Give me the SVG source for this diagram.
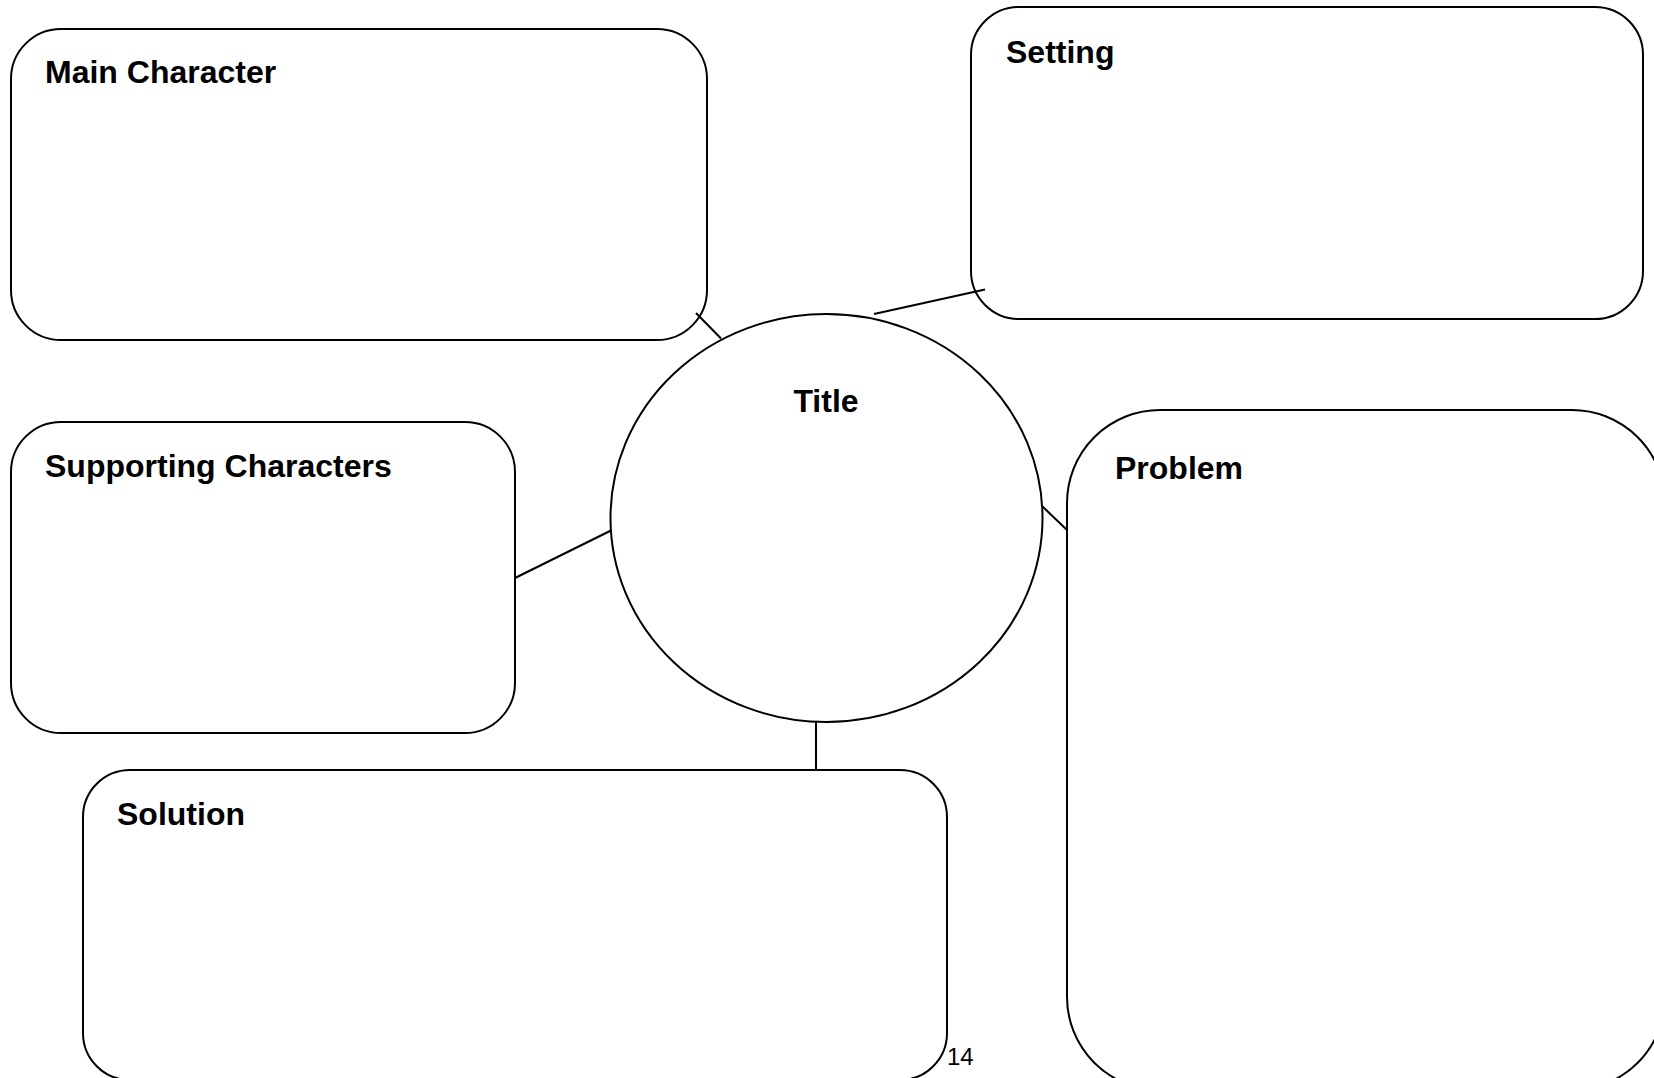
<svg xmlns="http://www.w3.org/2000/svg" width="1654" height="1078" viewBox="0 0 1654 1078">
<style>
.box{fill:#fff;stroke:#000;stroke-width:2}
.lbl{font-family:"Liberation Sans",Arial,sans-serif;font-weight:bold;font-size:32px;fill:#000}
.num{font-family:"Liberation Sans",Arial,sans-serif;font-size:24px;fill:#000}
.conn{stroke:#000;stroke-width:2;fill:none}
</style>
<rect width="1654" height="1078" fill="#fff"/>
<g id="main-character">
<rect class="box" x="11" y="29" width="696" height="311" rx="50" ry="50"/>
<text class="lbl" x="45" y="83">Main Character</text>
</g>
<g id="setting">
<rect class="box" x="971" y="7" width="672" height="312" rx="48" ry="48"/>
<text class="lbl" x="1006" y="63">Setting</text>
</g>
<g id="supporting-characters">
<rect class="box" x="11" y="422" width="504" height="311" rx="50" ry="50"/>
<text class="lbl" x="45" y="477">Supporting Characters</text>
</g>
<g id="problem">
<rect class="box" x="1067" y="410" width="598" height="680" rx="93" ry="93"/>
<text class="lbl" x="1115" y="479">Problem</text>
</g>
<g id="solution">
<rect class="box" x="83" y="770" width="864" height="310" rx="47" ry="47"/>
<text class="lbl" x="117" y="825">Solution</text>
</g>
<g id="title">
<ellipse class="box" cx="826.5" cy="518" rx="216" ry="204"/>
<text class="lbl" x="826" y="412" text-anchor="middle">Title</text>
</g>
<g id="connectors">
<line class="conn" x1="696" y1="313" x2="721" y2="338.5"/>
<line class="conn" x1="874" y1="314" x2="985" y2="289.5"/>
<line class="conn" x1="515" y1="578" x2="611" y2="530.5"/>
<line class="conn" x1="1042.5" y1="506.5" x2="1067" y2="530"/>
<line class="conn" x1="816" y1="722" x2="816" y2="770"/>
</g>
<text class="num" x="947" y="1065">14</text>
</svg>
